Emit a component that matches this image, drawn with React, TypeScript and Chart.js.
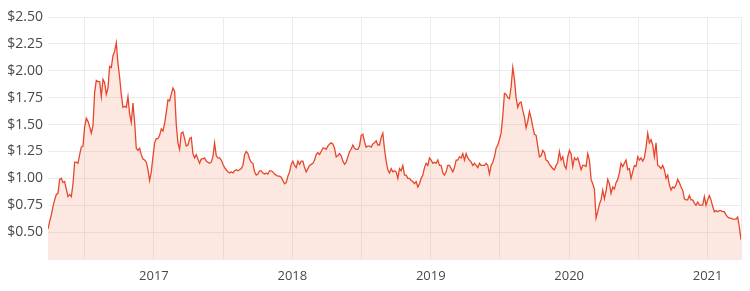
import React, { useEffect, useRef } from 'react';
import { Chart, registerables } from 'chart.js';

Chart.register(...registerables);

// Share price samples, evenly spaced in time (about 4.4 days apart)
const START_YEAR = 2016.235;
const STEP_YEARS = 0.012034;

const prices2016 = [
  0.53, 0.60, 0.66, 0.74, 0.80, 0.85, 0.86, 0.99, 1.00, 0.96,
  0.97, 0.90, 0.83, 0.85, 0.83, 0.95, 1.15, 1.15, 1.14, 1.22,
  1.29, 1.30, 1.48, 1.56, 1.53, 1.48, 1.42, 1.49, 1.80, 1.91,
  1.90, 1.90, 1.76, 1.92, 1.89, 1.78, 1.84, 2.04, 2.03, 2.14,
  2.18, 2.26, 2.07, 1.94, 1.78, 1.66, 1.67, 1.66, 1.76, 1.60,
  1.52, 1.70, 1.52, 1.28, 1.26, 1.28, 1.22, 1.18, 1.17, 1.15,
  1.08, 0.98, 1.06, 1.20, 1.33, 1.37, 1.37,
];

const prices2017 = [
  1.40, 1.46, 1.44, 1.51, 1.61, 1.73, 1.72, 1.78, 1.84, 1.81,
  1.50, 1.33, 1.27, 1.42, 1.43, 1.37, 1.30, 1.31, 1.37, 1.38,
  1.23, 1.19, 1.22, 1.18, 1.14, 1.18, 1.18, 1.19, 1.16, 1.15,
  1.14, 1.15, 1.20, 1.33, 1.21, 1.19, 1.19, 1.17, 1.13, 1.10,
  1.08, 1.06, 1.05, 1.06, 1.05, 1.07, 1.08, 1.07, 1.08, 1.09,
  1.12, 1.22, 1.25, 1.23, 1.18, 1.15, 1.14, 1.06, 1.03, 1.04,
  1.07, 1.07, 1.05, 1.04, 1.05, 1.04, 1.07, 1.07, 1.06, 1.04,
];

const prices2018 = [
  1.03, 1.02, 1.02, 1.01, 0.98, 0.95, 0.96, 1.02, 1.06, 1.13,
  1.16, 1.12, 1.10, 1.16, 1.13, 1.16, 1.16, 1.10, 1.06, 1.09,
  1.12, 1.13, 1.14, 1.17, 1.22, 1.24, 1.22, 1.25, 1.28, 1.28,
  1.27, 1.30, 1.32, 1.33, 1.32, 1.28, 1.20, 1.21, 1.23, 1.21,
  1.16, 1.13, 1.15, 1.20, 1.25, 1.27, 1.31, 1.28, 1.27, 1.27,
  1.30, 1.40, 1.41, 1.34, 1.29, 1.30, 1.30, 1.29, 1.32, 1.33,
  1.35, 1.31, 1.31, 1.38, 1.42, 1.27, 1.16, 1.08, 1.05,
];

const prices2019 = [
  1.09, 1.06, 1.07, 1.06, 1.00, 1.09, 1.07, 1.12, 1.03, 1.03,
  1.00, 1.00, 0.98, 0.97, 0.95, 0.97, 0.92, 0.95, 1.00, 1.03,
  1.10, 1.14, 1.12, 1.19, 1.17, 1.14, 1.15, 1.14, 1.17, 1.12,
  1.12, 1.05, 1.03, 1.06, 1.12, 1.12, 1.09, 1.06, 1.10, 1.17,
  1.17, 1.20, 1.19, 1.23, 1.17, 1.23, 1.19, 1.17, 1.15, 1.12,
  1.14, 1.12, 1.10, 1.14, 1.12, 1.12, 1.12, 1.14, 1.12, 1.04,
  1.12, 1.15, 1.20, 1.28, 1.31, 1.36, 1.42, 1.58, 1.79, 1.78,
];

const prices2020 = [
  1.75, 1.74, 1.85, 2.03, 1.92, 1.75, 1.66, 1.70, 1.71, 1.63,
  1.57, 1.47, 1.53, 1.62, 1.56, 1.48, 1.41, 1.40, 1.30, 1.20,
  1.21, 1.26, 1.24, 1.17, 1.16, 1.13, 1.11, 1.09, 1.08, 1.12,
  1.15, 1.25, 1.17, 1.20, 1.12, 1.09, 1.20, 1.26, 1.23, 1.11,
  1.19, 1.17, 1.19, 1.14, 1.08, 1.12, 1.12, 1.11, 1.23, 1.17,
  0.99, 0.95, 0.90, 0.63, 0.69, 0.76, 0.80, 0.89, 0.81, 0.88,
  0.99, 0.95, 0.86, 0.92, 0.90, 0.96, 0.99, 1.05, 1.14, 1.11,
];

const prices2021 = [
  1.14, 1.17, 1.08, 1.09, 1.00, 1.06, 1.12, 1.11, 1.20, 1.17,
  1.19, 1.16, 1.19, 1.29, 1.42, 1.33, 1.36, 1.31, 1.20, 1.33,
  1.12, 1.11, 1.09, 1.12, 1.08, 1.00, 1.03, 0.94, 0.89, 0.92,
  0.91, 0.94, 0.99, 0.96, 0.92, 0.89, 0.81, 0.80, 0.80, 0.84,
  0.80, 0.80, 0.77, 0.75, 0.78, 0.75, 0.75, 0.75, 0.83, 0.75,
  0.80, 0.84, 0.80, 0.74, 0.69, 0.70, 0.69, 0.70, 0.70, 0.69,
  0.69, 0.66, 0.64, 0.63, 0.63, 0.62, 0.62, 0.62, 0.64, 0.55,
  0.43,
];

const prices = [
  ...prices2016, ...prices2017, ...prices2018,
  ...prices2019, ...prices2020, ...prices2021,
];

// x grid: every half year; labels only on whole years
const xGridYears = [2016.5, 2017, 2017.5, 2018, 2018.5, 2019, 2019.5, 2020, 2020.5, 2021];
const yTickValues = [0.25, 0.5, 0.75, 1.0, 1.25, 1.5, 1.75, 2.0, 2.25, 2.5];

const LINE_COLOR = '#e6472b';
const FILL_COLOR = 'rgba(245, 120, 90, 0.18)';
const GRID_COLOR = '#ececec';
const TEXT_COLOR = '#4a4a4a';
const FONT = "'Open Sans', sans-serif";

export default function App() {
  const canvasRef = useRef<HTMLCanvasElement | null>(null);

  useEffect(() => {
    const canvas = canvasRef.current;
    if (!canvas) return;
    const points = prices.map((p, i) => ({ x: START_YEAR + i * STEP_YEARS, y: p }));
    const xMin = START_YEAR;
    const xMax = START_YEAR + (prices.length - 1) * STEP_YEARS;

    const chart = new Chart(canvas, {
      type: 'line',
      data: {
        datasets: [
          {
            data: points,
            borderColor: LINE_COLOR,
            backgroundColor: FILL_COLOR,
            borderWidth: 1.3,
            pointRadius: 0,
            pointHoverRadius: 0,
            tension: 0,
            fill: 'start',
          },
        ],
      },
      options: {
        animation: false,
        responsive: false,
        parsing: true,
        layout: { padding: { top: 17, right: 8, left: 0, bottom: 0 } },
        plugins: {
          legend: { display: false },
          tooltip: { enabled: false },
        },
        scales: {
          x: {
            type: 'linear',
            min: xMin,
            max: xMax,
            border: { display: false },
            grid: { color: GRID_COLOR, drawTicks: false },
            afterBuildTicks: (scale: any) => {
              scale.ticks = [...xGridYears, xMax].map((v) => ({ value: v }));
            },
            afterFit: (scale: any) => {
              scale.height = 32;
            },
            ticks: {
              autoSkip: false,
              maxRotation: 0,
              minRotation: 0,
              padding: 9,
              color: TEXT_COLOR,
              font: { family: FONT, size: 13 },
              callback: (value: any) =>
                Number.isInteger(Number(value)) ? String(value) : '',
            },
          },
          y: {
            type: 'linear',
            min: 0.25,
            max: 2.5,
            border: { display: false },
            grid: { color: GRID_COLOR, drawTicks: false },
            afterBuildTicks: (scale: any) => {
              scale.ticks = yTickValues.map((v) => ({ value: v }));
            },
            afterFit: (scale: any) => {
              scale.width = 48;
            },
            ticks: {
              padding: 5,
              color: TEXT_COLOR,
              font: { family: FONT, size: 14 },
              callback: (value: any) =>
                Number(value) < 0.3 ? '' : '$' + Number(value).toFixed(2),
            },
          },
        },
      },
    });
    return () => chart.destroy();
  }, []);

  return (
    <div style={{ position: 'fixed', left: 0, top: 0, width: 750, height: 291, background: '#fff' }}>
      <canvas ref={canvasRef} width={750} height={291} style={{ display: 'block' }} />
    </div>
  );
}
